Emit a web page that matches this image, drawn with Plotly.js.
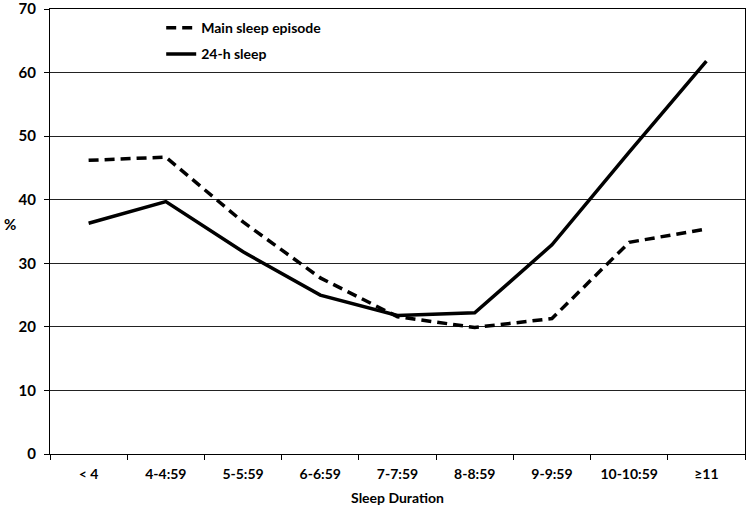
<!DOCTYPE html>
<html>
<head>
<meta charset="utf-8">
<script src="https://cdn.plot.ly/plotly-3.0.1.min.js"></script>
<style>html,body{margin:0;padding:0;background:#fff;}#chart{width:750px;height:507px;}</style>
</head>
<body>
<div id="chart"></div>
<script>
const categories = ["< 4", "4-4:59", "5-5:59", "6-6:59", "7-7:59", "8-8:59", "9-9:59", "10-10:59", "≥11"];
const mainSleep = [46.2, 46.7, 36.5, 27.7, 21.6, 19.9, 21.3, 33.3, 35.4];
const sleep24h = [36.3, 39.7, 31.8, 25.0, 21.8, 22.2, 32.9, 47.5, 61.8];
const yTicks = [0, 10, 20, 30, 40, 50, 60, 70];

const font = {family: "Lato, 'Open Sans', sans-serif", size: 14, color: "#000", weight: 700};

const traces = [
  {x: categories, y: mainSleep, type: "scatter", mode: "lines", name: "Main sleep episode",
   legendgroup: "a", line: {color: "#000", width: 3.5, dash: "10px,6px"}},
  {x: categories, y: sleep24h, type: "scatter", mode: "lines", name: "24-h sleep",
   legendgroup: "b", line: {color: "#000", width: 3.5}}
];

const layout = {
  width: 750, height: 507,
  margin: {l: 50, r: 5, t: 9, b: 53},
  paper_bgcolor: "#fff", plot_bgcolor: "#fff",
  font: font,
  showlegend: true,
  legend: {x: 0.16, y: 0.993, xanchor: "left", yanchor: "top", bgcolor: "rgba(0,0,0,0)",
           font: font, traceorder: "grouped", tracegroupgap: 5, itemwidth: 30},
  xaxis: {
    type: "category", tickson: "boundaries", ticks: "outside", ticklen: 5, tickcolor: "#000",
    showline: true, linecolor: "#000", linewidth: 1, mirror: true, showgrid: false,
    tickfont: font, range: [-0.5, 8.5], ticklabelstandoff: 7,
    title: {text: "Sleep Duration", font: font, standoff: 12}
  },
  yaxis: {
    range: [0, 70], tickvals: yTicks, ticks: "outside", ticklen: 5, tickcolor: "#000",
    showline: true, linecolor: "#000", linewidth: 1, mirror: true,
    showgrid: true, gridcolor: "#222", gridwidth: 1, zeroline: false,
    ticklabeloverflow: "allow", ticklabelstandoff: 5,
    tickfont: {family: font.family, size: 15, color: "#000", weight: 700},
    title: {text: ""}
  },
  annotations: [
    {text: "%", xref: "paper", yref: "y", x: -0.058, y: 36.2, showarrow: false,
     xanchor: "center", font: {family: font.family, size: 15, color: "#000", weight: 700}}
  ]
};

Plotly.newPlot("chart", traces, layout, {displayModeBar: false, staticPlot: true});
</script>
</body>
</html>
